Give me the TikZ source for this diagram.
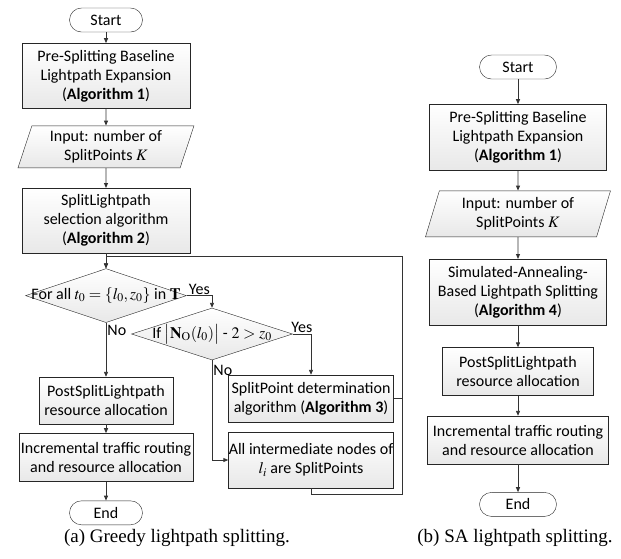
\documentclass[tikz,border=0pt]{standalone}
\usepackage{mathptmx}
\usepackage{fontspec}
\setmainfont{Carlito}
\newfontfamily\capfont{Liberation Serif}
\usetikzlibrary{shapes.geometric,positioning,arrows.meta}

\begin{document}
\begin{tikzpicture}[x=1pt,y=-1pt,>={Triangle[length=5pt,width=4pt]},
    font=\fontsize{16}{19}\selectfont,
    every node/.append style={align=center},
    term/.style={draw=black!85,rounded corners=12pt,minimum width=73pt,minimum height=24pt,inner sep=0pt},
    proc/.style={draw=black!85,top color=white,bottom color=black!9,minimum height=47pt,inner sep=0pt},
    io/.style={trapezium,trapezium left angle=67,trapezium right angle=113,trapezium stretches body,
        draw=black!85,top color=white,bottom color=black!9,minimum height=42pt,inner sep=0pt},
    cond/.style={diamond,draw=black!85,top color=white,bottom color=black!9,inner sep=0pt},
    line/.style={draw=black!80,line width=0.9pt},
    lbl/.style={inner sep=1pt}]
    \useasboundingbox (0,0) rectangle (621,558);

    % (a) greedy splitting
    \node[term] (start) at (106,20) {Start};
    \node[proc,minimum width=168pt,minimum height=65pt,below=11pt of start] (base) {Pre-Splitting Baseline\\Lightpath Expansion\\(\textbf{Algorithm 1})};
    \node[io,minimum width=176pt,below=17pt of base] (input) {Input: number of\\SplitPoints $K$};
    \node[proc,minimum width=168pt,minimum height=65pt,below=20pt of input] (select) {SplitLightpath\\selection algorithm\\(\textbf{Algorithm 2})};
    \node[cond,minimum width=161pt,minimum height=54pt,below=15pt of select,
        label=center:{For all $t_0 = \{l_0, z_0\}$ in $\mathbf{T}$}] (forall) {};
    \node[cond,minimum width=161pt,minimum height=52pt,
        label=center:{If $\bigl|\mathbf{N}_{\mathrm{O}}(l_0)\bigr|$ - $2 > z_0$}] (check) at (212,334) {};
    \node[proc,minimum width=134pt,below=54pt of forall] (post) {PostSplitLightpath\\resource allocation};
    \node[proc,minimum width=174pt,minimum height=48pt,below=9pt of post] (inc) {Incremental traffic routing\\and resource allocation};
    \node[term,below=19pt of inc] (end) {End};
    \node[proc,minimum width=165pt] (spdet) at (311,398.5) {SplitPoint determination\\algorithm (\textbf{Algorithm 3})};
    \node[proc,minimum width=165pt,minimum height=56pt] (allsp) at (311,460) {All intermediate nodes of\\$l_i$ are SplitPoints};
    \coordinate (loopb) at (402,494);
    \coordinate (loopt) at (402,256);

    \draw[line,->] (start) -- (base);
    \draw[line,->] (base) -- (input);
    \draw[line,->] (input) -- (select);
    \draw[line,->] (select) -- (forall);
    \draw[line,->] (forall.east) -| node[lbl,above,pos=0.25] {Yes} (check.north);
    \draw[line,->] (forall.south) -- node[lbl,right,pos=0.15] {No} (post);
    \draw[line,->] (check.east) -| node[lbl,above,pos=0.25] {Yes} (spdet.north);
    \draw[line,->] (check.south) |- node[lbl,right,pos=0.05] {No} (allsp.west);
    \draw[line,->] (post) -- (inc);
    \draw[line,->] (inc) -- (end);
    \draw[line] (spdet.east) -- (spdet.east -| loopt);
    \draw[line,->] (allsp.south) |- (loopb) -- (loopt) -| (forall.north);

    % (b) SA splitting
    \node[term,minimum width=77pt] (rstart) at (518,67) {Start};
    \node[proc,minimum width=177pt,minimum height=66pt,below=25pt of rstart] (rbase) {Pre-Splitting Baseline\\Lightpath Expansion\\(\textbf{Algorithm 1})};
    \node[io,minimum width=185pt,minimum height=46pt,below=20pt of rbase] (rinput) {Input: number of\\SplitPoints $K$};
    \node[proc,minimum width=177pt,minimum height=66pt,below=22pt of rinput] (rsa) {Simulated-Annealing-\\Based Lightpath Splitting\\(\textbf{Algorithm 4})};
    \node[proc,minimum width=151pt,minimum height=48pt,below=22pt of rsa] (rpost) {PostSplitLightpath\\resource allocation};
    \node[proc,minimum width=181pt,minimum height=48pt,below=20pt of rpost] (rinc) {Incremental traffic routing\\and resource allocation};
    \node[term,minimum width=77pt,below=28pt of rinc] (rend) {End};

    \draw[line,->] (rstart) -- (rbase);
    \draw[line,->] (rbase) -- (rinput);
    \draw[line,->] (rinput) -- (rsa);
    \draw[line,->] (rsa) -- (rpost);
    \draw[line,->] (rpost) -- (rinc);
    \draw[line,->] (rinc) -- (rend);

    % captions
    \node[font=\capfont\fontsize{19}{22}\selectfont] (capa) at (177,538) {(a) Greedy lightpath splitting.};
    \node[font=\capfont\fontsize{19}{22}\selectfont] (capb) at (515,538) {(b) SA lightpath splitting.};
\end{tikzpicture}
\end{document}
